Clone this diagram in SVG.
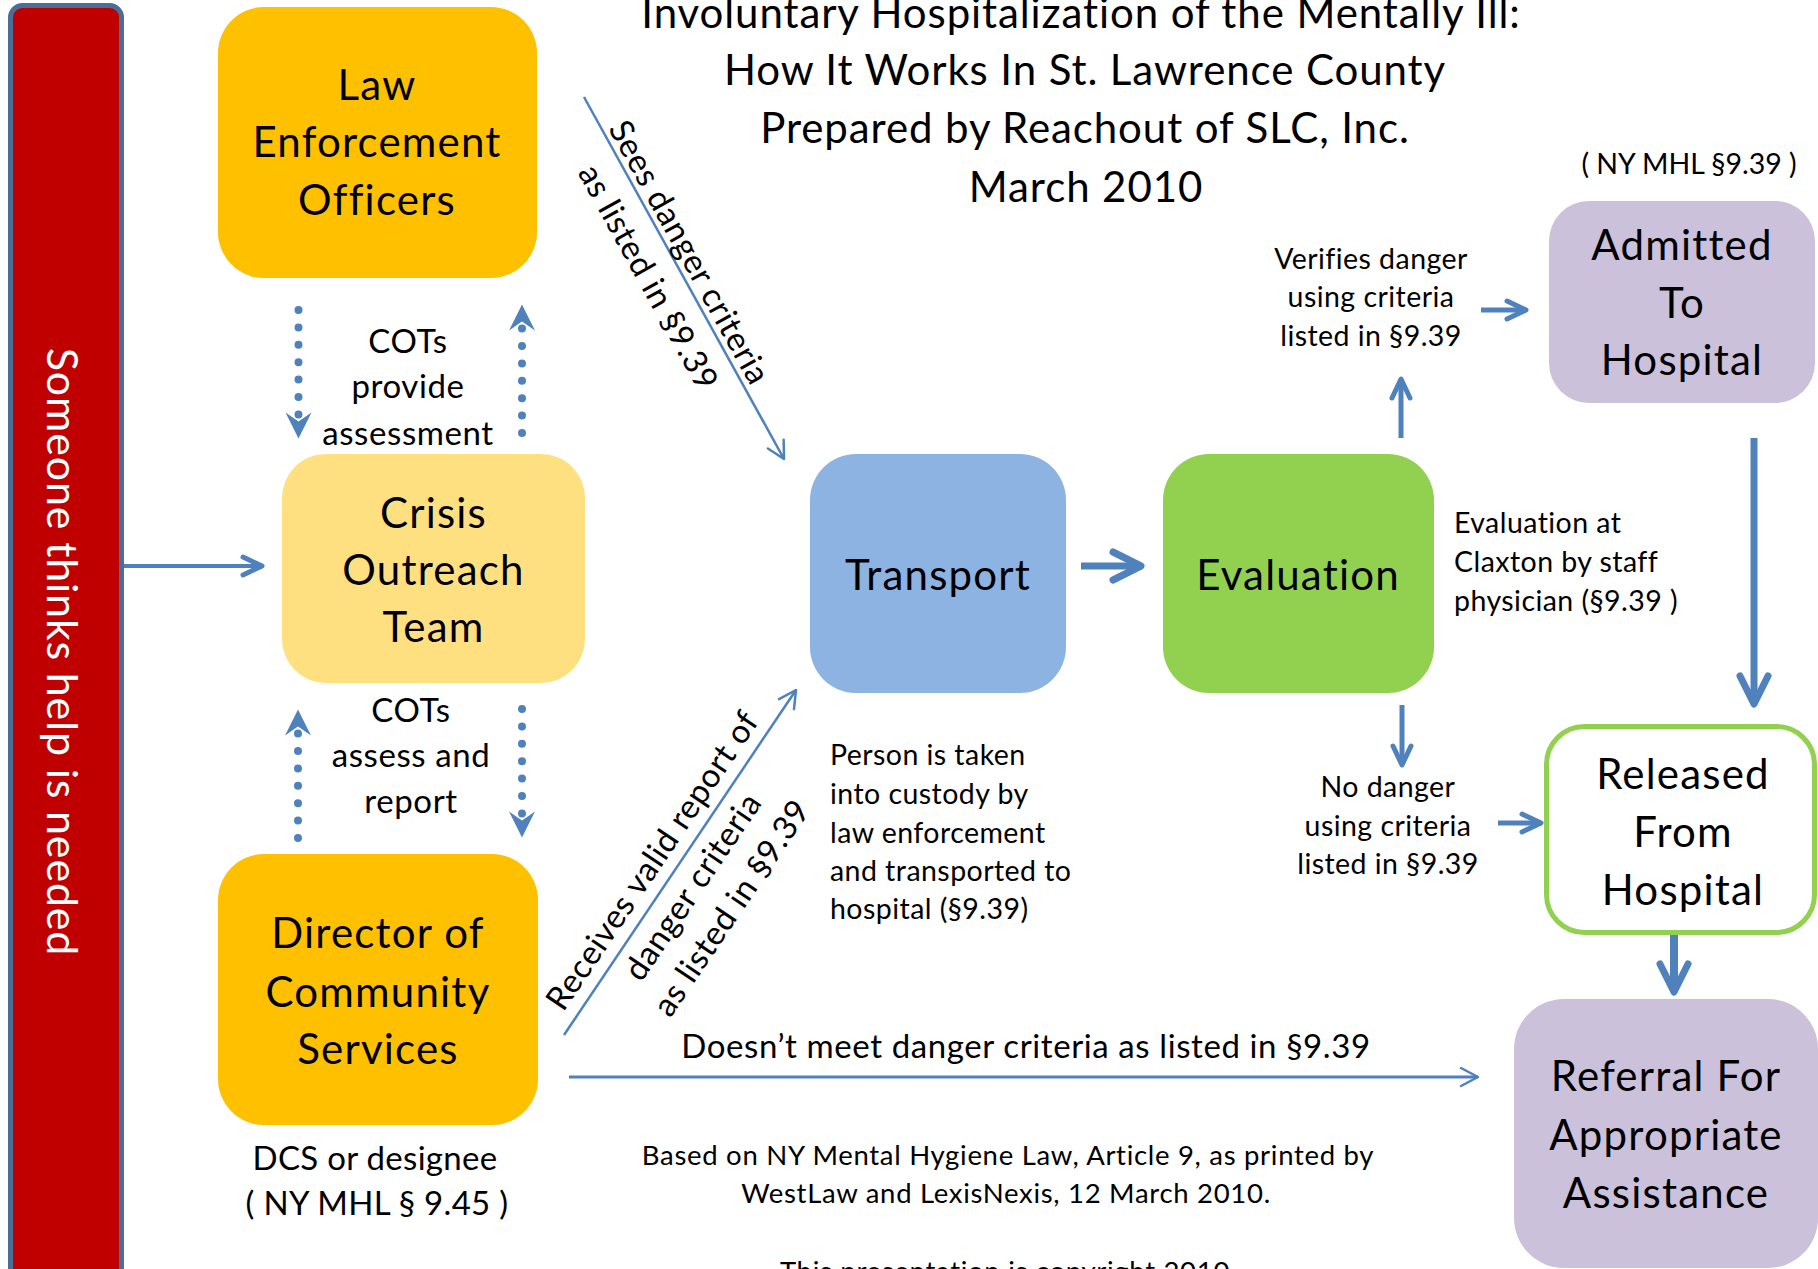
<svg xmlns="http://www.w3.org/2000/svg" width="1818" height="1269" viewBox="0 0 1818 1269">
<style>
text{font-family:Lato,"Liberation Sans",sans-serif;fill:#000}
.title{font-size:42px;letter-spacing:0.9px;text-anchor:middle}
.box{font-size:42px;letter-spacing:1.2px;text-anchor:middle}
.lg{font-size:33px;letter-spacing:0.6px;text-anchor:middle}
.sm{font-size:28.5px;letter-spacing:0.45px}
.ft{font-size:27.5px;letter-spacing:0.7px;text-anchor:middle}
.mid{text-anchor:middle}
.bar{font-size:43px;letter-spacing:0.8px;text-anchor:middle;fill:#fff}
.c{fill:none;stroke:#4F81BD;stroke-linecap:butt}
.dot{fill:none;stroke:#4F81BD;stroke-width:8;stroke-linecap:round;stroke-dasharray:0 17.4}
</style>
<defs>
<marker id="hL" markerUnits="userSpaceOnUse" orient="auto" refX="0" refY="0" markerWidth="1" markerHeight="1" overflow="visible">
<path d="M-28,-14 L0,0 L-28,14" fill="none" stroke="#4F81BD" stroke-width="7" stroke-linecap="round" stroke-linejoin="round"/>
</marker>
<marker id="hM" markerUnits="userSpaceOnUse" orient="auto" refX="0" refY="0" markerWidth="1" markerHeight="1" overflow="visible">
<path d="M-19,-9 L0,0 L-19,9" fill="none" stroke="#4F81BD" stroke-width="5" stroke-linecap="round" stroke-linejoin="round"/>
</marker>
<marker id="hS" markerUnits="userSpaceOnUse" orient="auto" refX="0" refY="0" markerWidth="1" markerHeight="1" overflow="visible">
<path d="M-17,-9 L0,0 L-17,9" fill="none" stroke="#4F81BD" stroke-width="2.5" stroke-linecap="round" stroke-linejoin="round"/>
</marker>
<marker id="hD" markerUnits="userSpaceOnUse" orient="auto" refX="0" refY="0" markerWidth="1" markerHeight="1" overflow="visible">
<path d="M24,0 L-2,-13 L7,0 L-2,13 Z" fill="#4F81BD"/>
</marker>
</defs>

<g id="bar">
<rect x="10.5" y="5.5" width="111" height="1300" rx="12" fill="#C00000" stroke="#4A6E96" stroke-width="5"/>
<text class="bar" transform="translate(47,652) rotate(90)">Someone thinks help is needed</text>
</g>

<g id="title">
<text class="title" x="1081" y="28">Involuntary Hospitalization of the Mentally Ill:</text>
<text class="title" x="1085" y="85">How It Works In St. Lawrence County</text>
<text class="title" x="1085" y="143">Prepared by Reachout of SLC, Inc.</text>
<text class="title" x="1086" y="202">March 2010</text>
</g>

<g id="law">
<rect x="218" y="7" width="319" height="271" rx="46" fill="#FFC000"/>
<text class="box" x="377" y="100">Law</text>
<text class="box" x="377" y="157">Enforcement</text>
<text class="box" x="377" y="215">Officers</text>
</g>

<g id="cot">
<rect x="282" y="454" width="303" height="229" rx="44" fill="#FFE081"/>
<text class="box" x="433.5" y="528">Crisis</text>
<text class="box" x="433.5" y="585">Outreach</text>
<text class="box" x="433.5" y="642">Team</text>
</g>

<g id="dcs">
<rect x="218" y="854" width="320" height="271" rx="46" fill="#FFC000"/>
<text class="box" x="378" y="948">Director of</text>
<text class="box" x="378" y="1007">Community</text>
<text class="box" x="378" y="1064">Services</text>
<text class="lg" x="375" y="1170" style="letter-spacing:0.3px">DCS or designee</text>
<text class="lg" x="377" y="1215" style="letter-spacing:0.3px">( NY MHL § 9.45 )</text>
</g>

<g id="transport">
<rect x="810" y="454" width="256" height="239" rx="46" fill="#8DB3E2"/>
<text class="box" x="938" y="590">Transport</text>
</g>

<g id="evaluation">
<rect x="1163" y="454" width="271" height="239" rx="46" fill="#92D050"/>
<text class="box" x="1298" y="590">Evaluation</text>
</g>

<g id="admitted">
<text class="sm mid" x="1689" y="174" style="letter-spacing:0">( NY MHL §9.39 )</text>
<rect x="1549" y="201" width="266" height="202" rx="40" fill="#CCC1DA"/>
<text class="box" x="1682" y="260">Admitted</text>
<text class="box" x="1682" y="318">To</text>
<text class="box" x="1682" y="375">Hospital</text>
</g>

<g id="released">
<rect x="1546.5" y="726.5" width="268" height="206" rx="38" fill="#fff" stroke="#92D050" stroke-width="5"/>
<text class="box" x="1683" y="789">Released</text>
<text class="box" x="1683" y="847">From</text>
<text class="box" x="1683" y="905">Hospital</text>
</g>

<g id="referral">
<rect x="1514" y="999" width="304" height="269" rx="50" fill="#CCC1DA"/>
<text class="box" x="1666" y="1091">Referral For</text>
<text class="box" x="1666" y="1150">Appropriate</text>
<text class="box" x="1666" y="1208">Assistance</text>
</g>

<g id="connectors">
<path class="c" d="M124,566 L262,566" stroke-width="4" marker-end="url(#hM)"/>
<path class="c" d="M584,97 L784,459" stroke-width="2.5" marker-end="url(#hS)"/>
<path class="c" d="M564,1035 L796,690" stroke-width="2.5" marker-end="url(#hS)"/>
<path class="c" d="M1081,566 L1141,566" stroke-width="7" marker-end="url(#hL)"/>
<path class="c" d="M1401,438 L1401,379" stroke-width="5" marker-end="url(#hM)"/>
<path class="c" d="M1481,310 L1526,310" stroke-width="5" marker-end="url(#hM)"/>
<path class="c" d="M1754,438 L1754,704" stroke-width="7" marker-end="url(#hL)"/>
<path class="c" d="M1402,705 L1402,765" stroke-width="5" marker-end="url(#hM)"/>
<path class="c" d="M1498,823 L1541,823" stroke-width="5" marker-end="url(#hM)"/>
<path class="c" d="M1674,935 L1674,992" stroke-width="8" marker-end="url(#hL)"/>
<path class="c" d="M569,1077 L1478,1077" stroke-width="3" marker-end="url(#hS)"/>
<path class="dot" d="M298.5,310 L298.5,414.6" marker-end="url(#hD)"/>
<path class="dot" d="M522,433 L522,328.4" marker-end="url(#hD)"/>
<path class="dot" d="M298,838 L298,733.4" marker-end="url(#hD)"/>
<path class="dot" d="M522,709 L522,813.6" marker-end="url(#hD)"/>
</g>

<g id="labels">
<text class="lg" x="408" y="353">COTs</text>
<text class="lg" x="408" y="398">provide</text>
<text class="lg" x="408" y="445">assessment</text>
<text class="lg" x="411" y="722">COTs</text>
<text class="lg" x="411" y="767">assess and</text>
<text class="lg" x="411" y="813">report</text>
<text class="lg" transform="translate(690,252) rotate(61)" y="12">Sees danger criteria</text>
<text class="lg" transform="translate(649,277) rotate(61)" y="12">as listed in §9.39</text>
<g transform="translate(564,1035) rotate(-56)">
<text class="lg" x="194" y="-13">Receives valid report of</text>
<text class="lg" x="195" y="35">danger criteria</text>
<text class="lg" x="199" y="79">as listed in §9.39</text>
</g>
<text class="sm" x="830" y="765">Person is taken</text>
<text class="sm" x="830" y="804">into custody by</text>
<text class="sm" x="830" y="843">law enforcement</text>
<text class="sm" x="830" y="881">and transported to</text>
<text class="sm" x="830" y="919">hospital (§9.39)</text>
<text class="sm mid" x="1371" y="269">Verifies danger</text>
<text class="sm mid" x="1371" y="307">using criteria</text>
<text class="sm mid" x="1371" y="346">listed in §9.39</text>
<text class="sm" x="1454" y="533">Evaluation at</text>
<text class="sm" x="1454" y="572">Claxton by staff</text>
<text class="sm" x="1454" y="611">physician (§9.39 )</text>
<text class="sm mid" x="1388" y="797">No danger</text>
<text class="sm mid" x="1388" y="836">using criteria</text>
<text class="sm mid" x="1388" y="874">listed in §9.39</text>
<text class="lg" x="1026" y="1058">Doesn’t meet danger criteria as listed in §9.39</text>
<text class="ft" x="1008" y="1165">Based on NY Mental Hygiene Law, Article 9, as printed by</text>
<text class="ft" x="1006" y="1203">WestLaw and LexisNexis, 12 March 2010.</text>
<text class="ft" x="1005" y="1281">This presentation is copyright 2010</text>
</g>
</svg>
